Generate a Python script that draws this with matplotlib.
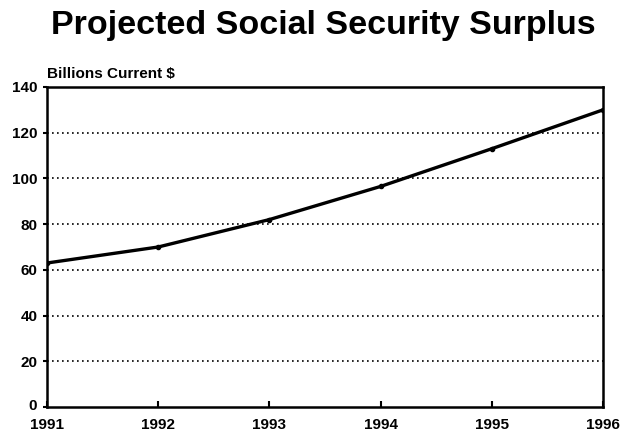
import matplotlib
matplotlib.use("Agg")
import matplotlib.pyplot as plt
import matplotlib.transforms as mtransforms

years = [1991, 1992, 1993, 1994, 1995, 1996]
surplus = [63, 70, 82, 96.5, 113, 130]
yticks = [0, 20, 40, 60, 80, 100, 120, 140]

plt.rcParams['font.family'] = ['Liberation Sans', 'DejaVu Sans']

fig = plt.figure(figsize=(6.24, 4.32), dpi=100)
ax = fig.add_axes([47/624, 1-407/432, (603-47)/624, (407-87)/432])

ax.plot(years, surplus, color='black', lw=2.4, marker='o', ms=3)
ax.set_xlim(1991, 1996)
ax.set_ylim(0, 140)
ax.set_yticks(yticks)
ax.set_xticks(years)
ax.set_yticklabels([str(v) for v in yticks], fontsize=11, fontweight='bold')
ax.set_xticklabels([str(v) for v in years], fontsize=11, fontweight='bold')
for v in yticks[1:-1]:
    ax.axhline(v, color='black', lw=1.2, ls=(0, (1, 2)))
for s in ax.spines.values():
    s.set_linewidth(1.8)
ax.tick_params(axis='y', direction='out', length=3, width=1.5, pad=4)
ax.tick_params(axis='x', direction='in', length=4, width=1.5, pad=8)

# lift the "0" label slightly so it clears the "1991" label
lbl0 = ax.get_yticklabels()[0]
lbl0.set_transform(lbl0.get_transform() + mtransforms.ScaledTranslation(0, 3/100, fig.dpi_scale_trans))

fig.text(323/624, 1-34/432, 'Projected Social Security Surplus', ha='center', va='baseline',
         fontsize=24.5, fontweight='bold')
fig.text(47/624, 1-78/432, 'Billions Current $', ha='left', va='baseline',
         fontsize=11, fontweight='bold')

fig.savefig('out.png', dpi=100)
